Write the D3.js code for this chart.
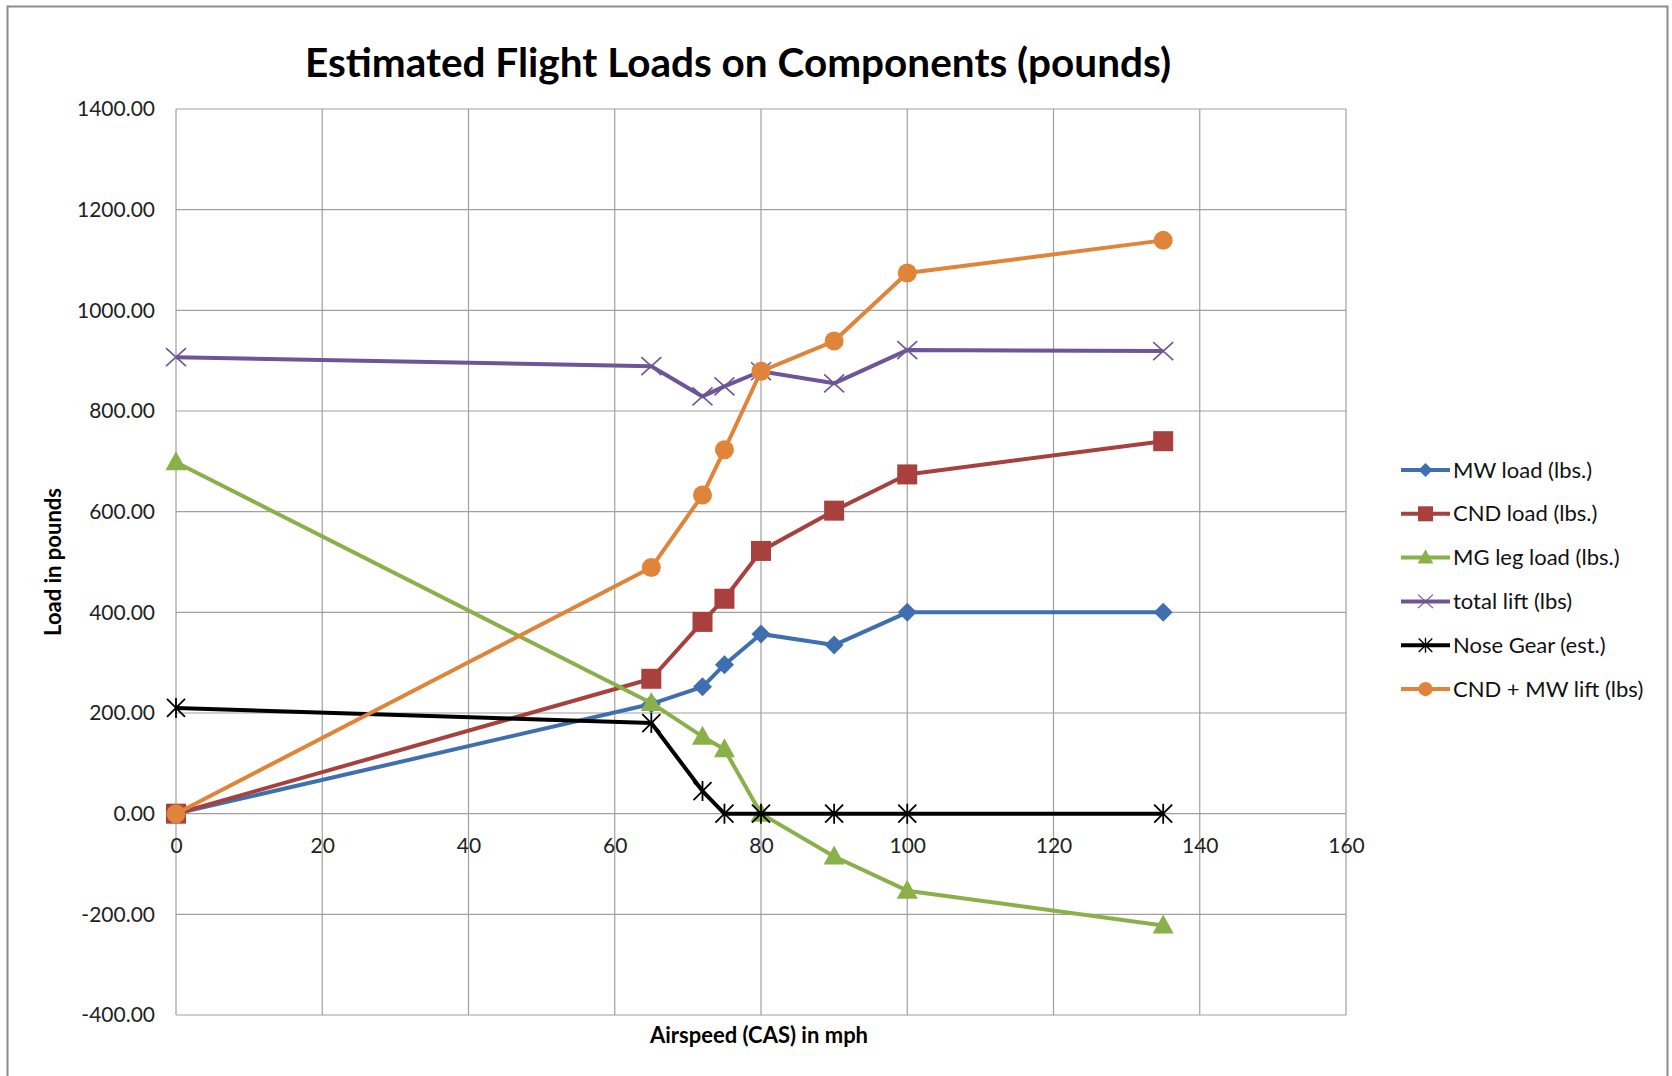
<!DOCTYPE html>
<html><head><meta charset="utf-8">
<script src="https://cdn.jsdelivr.net/npm/d3@7"></script>
<style>
body{margin:0;background:#fff;}
svg{display:block;font-family:Lato,"Open Sans",sans-serif;}
</style></head>
<body><svg id="c" width="1672" height="1076"></svg>
<script>
const airspeed = [0, 65, 72, 75, 80, 90, 100, 135];
const mwLoad = [0, 218, 252, 296, 357, 335, 400, 400];
const cndLoad = [0, 268, 381, 427, 522, 602, 674, 740];
const mgLegLoad = [698, 220, 153, 128, 0, -85, -153, -222];
const totalLift = [907, 889, 829, 849, 879, 855, 921, 919];
const noseGear = [210, 180, 45, 0, 0, 0, 0, 0];
const cndMwLift = [0, 489, 633, 723, 879, 939, 1074, 1139];
const seriesNames = ["MW load (lbs.)", "CND load (lbs.)", "MG leg load (lbs.)", "total lift (lbs)", "Nose Gear (est.)", "CND + MW lift (lbs)"];
const xTicks = [0, 20, 40, 60, 80, 100, 120, 140, 160];
const yTicks = [-400, -200, 0, 200, 400, 600, 800, 1000, 1200, 1400];

const seriesStyle = [
  {color: "#3F6FB0", marker: "diamond"},
  {color: "#A8403E", marker: "square"},
  {color: "#8AB04A", marker: "triangle"},
  {color: "#6E5597", marker: "x"},
  {color: "#000000", marker: "star"},
  {color: "#E0843A", marker: "circle"}
];
const seriesValues = [mwLoad, cndLoad, mgLegLoad, totalLift, noseGear, cndMwLift];

const svg = d3.select("#c");
const L = 176, R = 1346, T = 109, B = 1015;
const x = d3.scaleLinear().domain([0, 160]).range([L, R]);
const y = d3.scaleLinear().domain([-400, 1400]).range([B, T]);

// outer border
svg.append("rect").attr("x", 7.5).attr("y", 6.5).attr("width", 1660).attr("height", 1080)
  .attr("fill", "none").attr("stroke", "#8c8c8c").attr("stroke-width", 2);

// gridlines
const g = svg.append("g");
g.selectAll(".hg").data(yTicks).join("line")
  .attr("x1", L).attr("x2", R).attr("y1", d => y(d)).attr("y2", d => y(d))
  .attr("stroke", "#a0a0a0").attr("stroke-width", 1.2);
g.selectAll(".vg").data(xTicks).join("line")
  .attr("y1", T).attr("y2", B).attr("x1", d => x(d)).attr("x2", d => x(d))
  .attr("stroke", "#a0a0a0").attr("stroke-width", 1.2);

// axes labels
const fmtY = d => d3.format(".2f")(d).replace("\u2212", "-");
const yAxis = d3.axisLeft(y).tickValues(yTicks).tickFormat(fmtY).tickSize(0).tickPadding(21);
const ya = svg.append("g").attr("transform", `translate(${L},0)`).call(yAxis);
ya.select(".domain").remove();
ya.selectAll("text").attr("font-size", 21).attr("fill", "#222").attr("font-family", "Lato, sans-serif");

const xAxis = d3.axisBottom(x).tickValues(xTicks).tickFormat(d3.format("d")).tickSize(0).tickPadding(24);
const xa = svg.append("g").attr("transform", `translate(0,${y(0)})`).call(xAxis);
xa.select(".domain").remove();
xa.selectAll("text").attr("font-size", 21).attr("fill", "#222").attr("font-family", "Lato, sans-serif");

// title
svg.append("text").attr("x", 738).attr("y", 77).attr("text-anchor", "middle")
  .attr("font-size", 40.5).attr("font-weight", "bold").attr("fill", "#000")
  .text("Estimated Flight Loads on Components (pounds)");

svg.append("text").attr("x", 759).attr("y", 1043).attr("text-anchor", "middle")
  .attr("font-size", 22).attr("font-weight", "bold").text("Airspeed (CAS) in mph");
svg.append("text").attr("transform", "translate(61,562) rotate(-90)").attr("text-anchor", "middle")
  .attr("font-size", 22).attr("font-weight", "bold").text("Load in pounds");

function drawMarker(sel, type, color, cx, cy) {
  if (type === "diamond") {
    sel.append("path").attr("d", d3.symbol(d3.symbolDiamond2, 230)()).attr("transform", `translate(${cx},${cy})`)
      .attr("fill", color);
  } else if (type === "square") {
    sel.append("rect").attr("x", cx - 10).attr("y", cy - 10).attr("width", 20).attr("height", 20).attr("fill", color);
  } else if (type === "triangle") {
    sel.append("path").attr("d", `M${cx},${cy-11}L${cx+10.5},${cy+8}L${cx-10.5},${cy+8}Z`).attr("fill", color);
  } else if (type === "circle") {
    sel.append("circle").attr("cx", cx).attr("cy", cy).attr("r", 9.5).attr("fill", color);
  } else if (type === "x") {
    sel.append("path").attr("d", `M${cx-10},${cy-9}L${cx+10},${cy+9}M${cx-10},${cy+9}L${cx+10},${cy-9}`)
      .attr("stroke", color).attr("stroke-width", 1.6).attr("fill", "none");
  } else if (type === "star") {
    sel.append("path").attr("d", `M${cx-9},${cy-9}L${cx+9},${cy+9}M${cx-9},${cy+9}L${cx+9},${cy-9}M${cx},${cy-10}L${cx},${cy+10}`)
      .attr("stroke", color).attr("stroke-width", 1.8).attr("fill", "none");
  }
}

const line = d3.line().x(d => x(d[0])).y(d => y(d[1]));
[0, 1, 2, 3, 4, 5].forEach(i => {
  const st = seriesStyle[i];
  const pts = airspeed.map((a, k) => [a, seriesValues[i][k]]);
  const sg = svg.append("g");
  sg.append("path").datum(pts).attr("d", line).attr("fill", "none")
    .attr("stroke", st.color).attr("stroke-width", 4).attr("stroke-linejoin", "round");
  pts.forEach(p => drawMarker(sg, st.marker, st.color, x(p[0]), y(p[1])));
});

// legend
const legY0 = 470, legDy = 43.8;
seriesNames.forEach((name, i) => {
  const st = seriesStyle[i];
  const ly = legY0 + i * legDy;
  const lg = svg.append("g");
  lg.append("line").attr("x1", 1401).attr("x2", 1450).attr("y1", ly).attr("y2", ly)
    .attr("stroke", st.color).attr("stroke-width", 4);
  const mScale = 0.75;
  const mg = lg.append("g").attr("transform", `translate(${1425.5},${ly}) scale(${mScale}) translate(${-1425.5},${-ly})`);
  drawMarker(mg, st.marker, st.color, 1425.5, ly);
  lg.append("text").attr("x", 1453).attr("y", ly + 7.5).attr("font-size", 22).attr("fill", "#111").text(name);
});
</script></body></html>
